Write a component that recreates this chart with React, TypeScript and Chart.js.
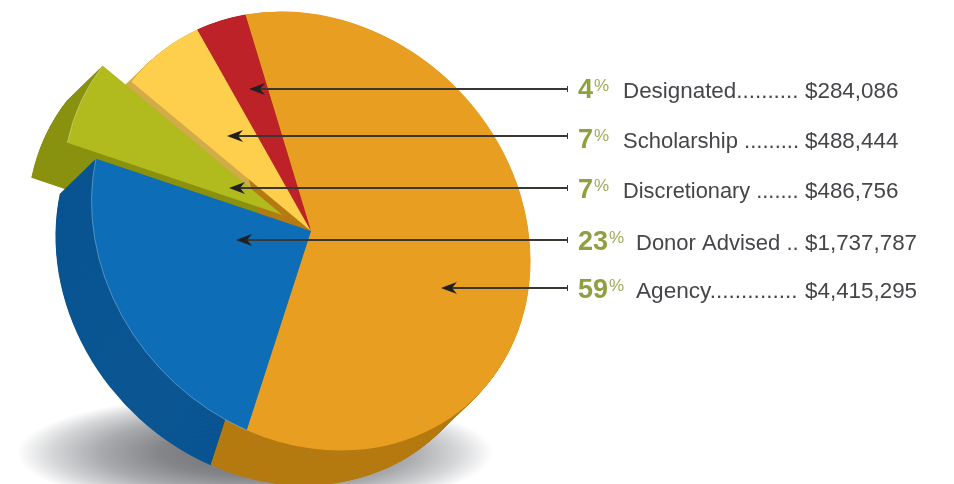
import React, { useEffect, useRef } from "react";
import { Chart, registerables } from "chart.js";

Chart.register(...registerables);

// Legend order (top to bottom of the list)
const categories = ["Designated", "Scholarship", "Discretionary", "Donor Advised", "Agency"];
const amounts = [284086, 488444, 486756, 1737787, 4415295];
const percentLabels = ["4", "7", "7", "23", "59"];
const leaderText = ["Designated..........", "Scholarship .........", "Discretionary .......", "Donor Advised ..", "Agency.............."];
const amountLabels = ["$284,086", "$488,444", "$486,756", "$1,737,787", "$4,415,295"];

// Styles, legend order
const faceColors = ["#BC2227", "#FDCF4C", "#B1BB1E", "#0D6DB7", "#E89E20"];
const sideColors = ["#8E1A1E", "#D1AC48", "#8A9210", "#0A5592", "#B57B12"];
const explodePx = [0, 0, 31, 0, 0];

// Annotation layout
const arrowTipX = [249, 227, 229, 236, 441];
const arrowY = [89, 136, 188, 240, 288];
const baselineY = [98, 148, 198, 250, 298];
const nameX = [623, 623, 623, 636, 636];
const nameFontPx = [22.4, 22, 21.8, 22, 22.6];

const rev = <T,>(a: T[]) => a.slice().reverse();
const DEPTH_X = -36;
const DEPTH_Y = 35;
const SHEAR = 0.068;
const FONT = '"Liberation Sans", Arial, sans-serif';

const applyTilt = (ctx: CanvasRenderingContext2D, cx: number, cy: number) => {
  ctx.translate(cx, cy);
  ctx.transform(1, SHEAR, SHEAR, 1, 0, 0);
  ctx.translate(-cx, -cy);
};

const wedge = (ctx: CanvasRenderingContext2D, a: any) => {
  ctx.beginPath();
  ctx.moveTo(a.x, a.y);
  ctx.arc(a.x, a.y, a.outerRadius, a.startAngle, a.endAngle);
  ctx.closePath();
};

const pie3d = {
  id: "pie3d",
  afterDatasetsUpdate(chart: any) {
    const arcs = chart.getDatasetMeta(0).data;
    const ex = rev(explodePx);
    arcs.forEach((a: any, i: number) => {
      const mid = (a.startAngle + a.endAngle) / 2;
      a.x += Math.cos(mid) * ex[i];
      a.y += Math.sin(mid) * ex[i];
    });
  },
  beforeDatasetsDraw(chart: any) {
    const ctx: CanvasRenderingContext2D = chart.ctx;
    // soft floor shadow
    ctx.save();
    ctx.translate(255, 453);
    ctx.scale(1, 59 / 238);
    const g = ctx.createRadialGradient(0, 0, 0, 0, 0, 238);
    g.addColorStop(0, "#6E6F73");
    g.addColorStop(0.4, "#848589");
    g.addColorStop(0.65, "#A9AAAD");
    g.addColorStop(0.85, "#D5D6D8");
    g.addColorStop(1, "#FFFFFF");
    ctx.fillStyle = g;
    ctx.beginPath();
    ctx.arc(0, 0, 238, 0, Math.PI * 2);
    ctx.fill();
    ctx.restore();
  },
  beforeDatasetDraw(chart: any) {
    const ctx: CanvasRenderingContext2D = chart.ctx;
    const arcs = chart.getDatasetMeta(0).data;
    const sides = rev(sideColors);
    const cx = (chart.chartArea.left + chart.chartArea.right) / 2;
    const cy = (chart.chartArea.top + chart.chartArea.bottom) / 2;
    // back-to-front: Designated, Scholarship, Discretionary, Donor Advised, Agency
    const order = [4, 3, 2, 1, 0];
    order.forEach((i) => {
      const a = arcs[i];
      ctx.fillStyle = sides[i];
      for (let s = 100; s >= 1; s--) {
        ctx.save();
        ctx.translate((DEPTH_X * s) / 100, (DEPTH_Y * s) / 100);
        applyTilt(ctx, cx, cy);
        wedge(ctx, a);
        ctx.fill();
        ctx.restore();
      }
    });
    ctx.save();
    applyTilt(ctx, cx, cy);
  },
  afterDatasetDraw(chart: any) {
    const ctx: CanvasRenderingContext2D = chart.ctx;
    const arcs = chart.getDatasetMeta(0).data;
    // thin highlight on the rims of the blue and green slices
    [1, 2].forEach((i) => {
      const a = arcs[i];
      ctx.beginPath();
      ctx.arc(a.x, a.y, a.outerRadius, a.startAngle, a.endAngle);
      ctx.strokeStyle = "rgba(255,255,255,0.35)";
      ctx.lineWidth = 0.8;
      ctx.stroke();
    });
    ctx.restore();
  },
  afterDatasetsDraw(chart: any) {
    const ctx: CanvasRenderingContext2D = chart.ctx;
    ctx.save();
    categories.forEach((_, i) => {
      const y = arrowY[i];
      const tip = arrowTipX[i];
      ctx.strokeStyle = "#3A3632";
      ctx.lineWidth = 1.8;
      ctx.beginPath();
      ctx.moveTo(tip + 10, y);
      ctx.lineTo(567, y);
      ctx.stroke();
      ctx.lineWidth = 1;
      ctx.beginPath();
      ctx.moveTo(567.5, y - 3);
      ctx.lineTo(567.5, y + 3);
      ctx.stroke();
      ctx.fillStyle = "#231F20";
      ctx.beginPath();
      ctx.moveTo(tip, y);
      ctx.lineTo(tip + 16, y - 6);
      ctx.lineTo(tip + 11, y);
      ctx.lineTo(tip + 16, y + 6);
      ctx.closePath();
      ctx.fill();

      const base = baselineY[i];
      ctx.textBaseline = "alphabetic";
      ctx.textAlign = "left";
      ctx.fillStyle = "#8FA03F";
      ctx.font = `bold 27px ${FONT}`;
      ctx.fillText(percentLabels[i], 578, base);
      const w = ctx.measureText(percentLabels[i]).width;
      ctx.font = `17px ${FONT}`;
      ctx.fillStyle = "#9DAD55";
      ctx.fillText("%", 578 + w + 1, base - 7);
      ctx.fillStyle = "#45454A";
      ctx.font = `${nameFontPx[i]}px ${FONT}`;
      ctx.fillText(leaderText[i], nameX[i], base);
      ctx.font = `22.4px ${FONT}`;
      ctx.fillText(amountLabels[i], 805, base);
    });
    ctx.restore();
  },
};

export default function App() {
  const ref = useRef<HTMLCanvasElement>(null);
  useEffect(() => {
    if (!ref.current) return;
    const chart = new Chart(ref.current, {
      type: "pie",
      data: {
        labels: rev(categories),
        datasets: [
          {
            data: rev(amounts),
            backgroundColor: rev(faceColors),
            borderWidth: 0,
            clip: false,
          } as any,
        ],
      },
      options: {
        responsive: false,
        animation: false,
        rotation: -13.5,
        radius: 219,
        layout: { padding: { left: 0, top: 0, right: 332, bottom: 22 } },
        plugins: { legend: { display: false }, tooltip: { enabled: false } },
      } as any,
      plugins: [pie3d as any],
    });
    return () => chart.destroy();
  }, []);
  return (
    <div style={{ position: "fixed", left: 0, top: 0, width: 954, height: 484, background: "#fff", overflow: "hidden" }}>
      <canvas ref={ref} width={954} height={484} style={{ display: "block" }} />
    </div>
  );
}
